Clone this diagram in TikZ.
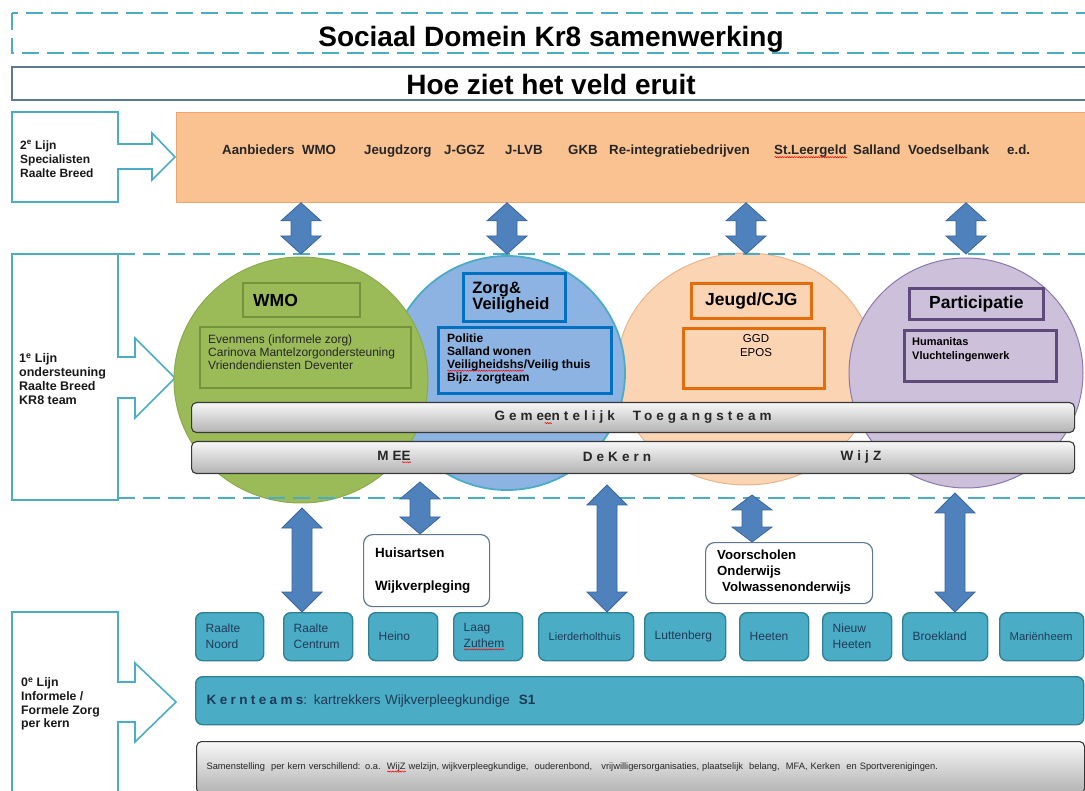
\documentclass[tikz,border=0pt]{standalone}
\usepackage{fontspec}
\setmainfont{Liberation Sans}
\usetikzlibrary{shapes.geometric}
\usetikzlibrary{calc}
\usetikzlibrary{positioning}
\usetikzlibrary{decorations.pathmorphing}

\definecolor{kr8teal}{HTML}{4BACC6}
\definecolor{kr8tealdark}{HTML}{2F8296}
\definecolor{kr8slate}{HTML}{5D7A92}
\definecolor{kr8orange}{HTML}{FAC191}
\definecolor{kr8orangerim}{HTML}{EFA56B}
\definecolor{kr8arrow}{HTML}{4F81BD}
\definecolor{kr8arrowline}{HTML}{3B6699}
\definecolor{wmogreen}{HTML}{9BBB59}
\definecolor{wmorim}{HTML}{8AAB4C}
\definecolor{wmoline}{HTML}{76923C}
\definecolor{zorgblue}{HTML}{8DB3E2}
\definecolor{zorgrim}{HTML}{4BACC6}
\definecolor{zorgline}{HTML}{0070C0}
\definecolor{jeugdpeach}{HTML}{FBD4B4}
\definecolor{jeugdrim}{HTML}{E9B488}
\definecolor{jeugdline}{HTML}{E46C0A}
\definecolor{partlilac}{HTML}{CCC0DA}
\definecolor{partrim}{HTML}{8C78AA}
\definecolor{partline}{HTML}{604A7B}
\definecolor{kerntext}{HTML}{1F3B57}

% red spelling wave under a word
\newcommand{\spel}[1]{\leavevmode\setbox0=\hbox{#1}\rlap{\raisebox{-3pt}{\tikz[sharp corners]\draw[red, line width=0.5pt, decorate, decoration={snake, amplitude=0.6pt, segment length=2.4pt}] (0pt,0pt) -- (\the\wd0,0pt);}}\box0\relax}
\newcommand{\fsz}[2]{\fontsize{#1}{#2}\selectfont}

% fat double arrow, vertical, from top point to bottom point
\newcommand{\blokpijl}[3][18pt]{%
  \path[pijl] let \p1=(#2), \p2=(#3) in
    (\x1,\y1) -- ++(20pt,-#1) -- ++(-10pt,0pt) -- (\x1+10pt,\y2+#1) -- ++(10pt,0pt)
    -- (\x1,\y2) -- ++(-20pt,#1) -- ++(10pt,0pt) -- (\x1-10pt,\y1-#1) -- ++(-10pt,0pt) -- cycle;}

\tikzset{
  streep/.style={draw=kr8teal, line width=2pt, dash pattern=on 17pt off 8pt},
  lijnpijl/.style={draw=kr8teal, line width=1.6pt, fill=white, line join=miter},
  lijntekst/.style={anchor=west, align=left, inner sep=0pt, text=black!90},
  circ/.style={ellipse, inner sep=0pt, line width=1pt},
  kop/.style={draw, line width=2.8pt, inner sep=0pt},
  lijst/.style={anchor=west, align=left, inner sep=0pt},
  balk/.style={draw=black!78, line width=1.1pt, rounded corners=5pt, top color=black!3, bottom color=black!30, inner sep=0pt, text=black!85},
  spatie/.style={inner sep=0pt, text=black!85, font=\bfseries\fsz{13.5}{16}\addfontfeature{LetterSpace=30}},
  kern/.style={draw=kr8tealdark, line width=1.4pt, fill=kr8teal, rounded corners=7pt, anchor=north west, minimum height=48pt, inner xsep=10pt, inner ysep=0pt, align=left, text=kerntext, font=\fsz{12}{16}},
  info/.style={draw=kr8slate, line width=1.2pt, fill=white, rounded corners=9pt, anchor=north west, inner sep=0pt},
  pijl/.style={fill=kr8arrow, draw=kr8arrowline, line width=0.8pt, line join=miter},
}

\begin{document}
\begin{tikzpicture}[x=1pt, y=-1pt]
    \useasboundingbox (0,0) rectangle (1085,791);
    \clip (0,0) rectangle (1085,791);
    % Titles
    \draw[streep] (12,13) rectangle (1100,53);
    \node[anchor=base, inner sep=0pt, font=\bfseries\fsz{28}{30}] (titel) at (551,47) {Sociaal Domein Kr8 samenwerking};
    \draw[draw=kr8slate, line width=1.6pt] (12,67) rectangle (1100,100);
    \node[anchor=base, inner sep=0pt, font=\bfseries\fsz{28}{30}] (veld) at (551,95) {Hoe ziet het veld eruit};

    % 2e lijn
    \draw[lijnpijl] (12,112) -- (118,112) -- (118,144) -- (152,144) -- (152,133) -- (175,157) -- (152,180) -- (152,169) -- (118,169) -- (118,202) -- (12,202) -- cycle;
    \node[lijntekst, font=\bfseries\fsz{12}{14}] (lijn2) at (20,159) {2\textsuperscript{e} Lijn\\Specialisten\\Raalte Breed};
    \node[anchor=north west, fill=kr8orange, draw=kr8orangerim, line width=0.8pt, minimum width=930pt, minimum height=90pt] (aanb) at (176,112) {};
    \foreach \xp/\txt [count=\i] in {222/Aanbieders\ \ WMO, 364/Jeugdzorg, 444/J-GGZ, 505/J-LVB, 568/GKB, 609/Re-integratiebedrijven, 774/\spel{St.Leergeld}, 853/Salland, 908/Voedselbank, 1007/e.d.}
        \node[anchor=base west, inner sep=0pt, text=black!85, font=\bfseries\fsz{13.3}{15}] (aanb\i) at (\xp,155) {\txt};

    % 1e lijn
    \draw[lijnpijl] (12,254) -- (118,254) -- (118,357) -- (135,357) -- (135,338) -- (175,378) -- (135,418) -- (135,398) -- (118,398) -- (118,500) -- (12,500) -- cycle;
    \node[lijntekst, font=\bfseries\fsz{12.5}{13.7}] (lijn1) at (19,379) {1\textsuperscript{e} Lijn\\ondersteuning\\Raalte Breed\\KR8 team};

    % Circles
    \node[circ, fill=jeugdpeach, draw=jeugdrim, minimum width=258pt, minimum height=232pt] (jeugd) at (746,369) {};
    \node[circ, fill=partlilac, draw=partrim, minimum width=234pt, minimum height=230pt] (part) at (966,373) {};
    \node[circ, fill=zorgblue, draw=zorgrim, line width=1.8pt, minimum width=236pt, minimum height=234pt] (zorg) at (507,373) {};
    \node[circ, fill=wmogreen, draw=wmorim, minimum width=254pt, minimum height=246pt] (wmo) at (301,380) {};

    % WMO
    \node[kop, draw=wmoline, line width=2.4pt, anchor=north west, minimum height=34pt, text width=97pt, inner xsep=10pt, align=left, font=\bfseries\fsz{17.5}{20}] (wmokop) at (242,282) {WMO};
    \node[kop, draw=wmoline, line width=2.4pt, anchor=north west, minimum width=211pt, minimum height=61pt] (wmobox) at (199,326) {};
    \node[lijst, font=\fsz{12}{13}, text=black!85] (wmolijst) at (208,352) {Evenmens (informele zorg)\\Carinova Mantelzorgondersteuning\\Vriendendiensten Deventer};
    % Zorg & Veiligheid
    \node[kop, draw=zorgline, anchor=north west, minimum height=48pt, text width=84pt, inner xsep=9pt, align=left, font=\bfseries\fsz{16.5}{16}] (zorgkop) at (462,272) {Zorg\&\\Veiligheid};
    \node[kop, draw=zorgline, anchor=north west, minimum width=173pt, minimum height=66pt] (zorgbox) at (437,326) {};
    \node[lijst, font=\bfseries\fsz{12}{13}] (zorglijst) at (447,359) {Politie\\Salland wonen\\\spel{Veiligheidshs}/Veilig thuis\\Bijz. zorgteam};
    % Jeugd
    \node[kop, draw=jeugdline, anchor=north west, minimum width=120pt, minimum height=35pt, font=\bfseries\fsz{17.5}{20}] (jeugdkop) at (690,282) {Jeugd/CJG};
    \node[kop, draw=jeugdline, anchor=north west, minimum width=141pt, minimum height=60pt] (jeugdbox) at (682,327) {};
    \node[inner sep=0pt, align=center, font=\fsz{11.5}{14}] (jeugdlijst) at (756,346) {GGD\\EPOS};
    % Participatie
    \node[kop, draw=partline, anchor=north west, minimum width=134pt, minimum height=31pt, font=\bfseries\fsz{17.5}{20}] (partkop) at (908,287) {Participatie};
    \node[kop, draw=partline, anchor=north west, minimum width=152pt, minimum height=51pt] (partbox) at (903,329) {};
    \node[lijst, font=\bfseries\fsz{11}{14}] (partlijst) at (912,350) {Humanitas\\Vluchtelingenwerk};

    % Bars
    \node[balk, anchor=north west, minimum width=883pt, minimum height=30pt, font=\bfseries\fsz{13.5}{16}\addfontfeature{LetterSpace=30}] (gem) at (191,402) {Geme\spel{e}ntelijk\hspace{10pt} Toegangsteam};
    \node[balk, anchor=north west, minimum width=883pt, minimum height=32pt] (mee) at (191,441) {};
    \node[spatie] (meetekst) at (394,457) {ME\spel{E}};
    \node[spatie] (dekern) at (617,457) {DeKern};
    \node[spatie] (wijz) at (861,457) {WijZ};

    % Dashed band
    \coordinate (bandtop) at (118,254);
    \coordinate (bandbot) at (1100,498);
    \draw[streep] (bandtop) -- (bandtop -| bandbot);
    \draw[streep] (bandtop |- bandbot) -- (bandbot);

    % Arrows 2e lijn <-> 1e lijn
    \foreach \c in {wmo,zorg,jeugd,part}
        \blokpijl{aanb.south -| \c.north}{bandtop -| \c.north};

    % Huisartsen, onderwijs
    \node[info, minimum width=126pt, minimum height=72pt] (huis) at (363,534) {};
    \node[lijst, font=\bfseries\fsz{13.4}{16.5}] (huislijst) at (375,571) {Huisartsen\\[16.5pt]Wijkverpleging};
    \node[info, minimum width=167pt, minimum height=61pt] (voor) at (705,542) {};
    \node[lijst, font=\bfseries\fsz{13.2}{16}] (voorlijst) at (717,572) {Voorscholen\\Onderwijs\\\hspace{5pt}Volwassenonderwijs};

    % Kernen
    \foreach \nm/\xl/\tw/\txt in {rnoord/195/48/{Raalte\\Noord}, rcentrum/283/49/{Raalte\\Centrum}, heino/368/49/{Heino}, laag/453/49/{Laag\\\spel{Zuthem}}, lierder/538/75/{\fsz{11}{13}Lierderholthuis}, lutten/644/61/{Luttenberg}, heeten/739/49/{Heeten}, nheeten/822/49/{Nieuw\\Heeten}, broek/902/65/{Broekland}, marien/999/64/{\fsz{11.3}{13}Mariënheem}}
        \node[kern, text width=\tw pt] (\nm) at (\xl,612) {\txt};

    % Arrows 1e lijn <-> 0e lijn
    \coordinate (wmovoet) at (302,508);
    \coordinate (zorgvoet) at (420,482);
    \coordinate (kernvoet) at (607,485);
    \coordinate (jeugdvoet) at (752,495);
    \coordinate (partvoet) at (955,493);
    \blokpijl[20pt]{wmovoet}{wmovoet |- rcentrum.north};
    \blokpijl[17pt]{zorgvoet}{zorgvoet |- huis.north};
    \blokpijl[20pt]{kernvoet}{kernvoet |- lierder.north};
    \blokpijl[15pt]{jeugdvoet}{jeugdvoet |- voor.north};
    \blokpijl[20pt]{partvoet}{partvoet |- broek.north};

    % 0e lijn
    \draw[lijnpijl] (12,612) -- (118,612) -- (118,682) -- (135,682) -- (135,663) -- (176,702) -- (135,742) -- (135,722) -- (118,722) -- (118,800) -- (12,800) -- cycle;
    \node[lijntekst, font=\bfseries\fsz{12.3}{13.7}] (lijn0) at (21,704) {0\textsuperscript{e} Lijn\\Informele /\\Formele Zorg\\per kern};
    \node[kern, text width=866pt, inner xsep=11pt, font=\fsz{13.5}{16}] (kernteams) at (195,676) {{\bfseries\addfontfeature{LetterSpace=25}Kernteams}: kartrekkers Wijkverpleegkundige\ \ \textbf{S1}};
    \node[balk, anchor=north west, minimum height=52pt, text width=868pt, inner xsep=10pt, align=left, font=\fsz{9.3}{11}] (samen) at (196,741) {Samenstelling\ \ per kern verschillend: o.a.\ \ \spel{WijZ} welzijn, wijkverpleegkundige,\ \ ouderenbond,\ \ \ vrijwilligersorganisaties, plaatselijk\ \ belang,\ \ MFA, Kerken\ \ en Sportverenigingen.};
\end{tikzpicture}
\end{document}
